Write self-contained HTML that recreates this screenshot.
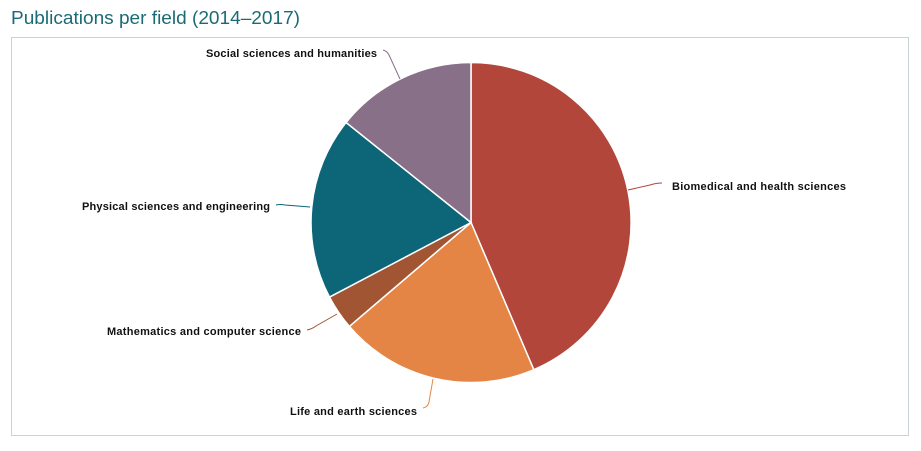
<!DOCTYPE html><html><head><style>body{margin:0;background:#fff;width:921px;height:446px;overflow:hidden;font-family:"Liberation Sans",sans-serif}</style></head><body>
<svg width="921" height="446" xmlns="http://www.w3.org/2000/svg">
<text x="11" y="24" font-size="18" fill="#1a6b76" font-family="Liberation Sans, sans-serif" textLength="289" lengthAdjust="spacingAndGlyphs">Publications per field (2014–2017)</text>
<rect x="11.5" y="37.5" width="897" height="398" fill="#fff" stroke="#c8d3d6"/>
<g stroke="#fff" stroke-width="1.5">
<path d="M471,222.5 L471,62.5 A160,160 0 0 1 533.8,369.7 Z" fill="#b2463a"/>
<path d="M471,222.5 L533.8,369.7 A160,160 0 0 1 349.3,326.4 Z" fill="#e58545"/>
<path d="M471,222.5 L349.3,326.4 A160,160 0 0 1 329.5,297.1 Z" fill="#a15533"/>
<path d="M471,222.5 L329.5,297.1 A160,160 0 0 1 346.1,122.5 Z" fill="#0c6677"/>
<path d="M471,222.5 L346.1,122.5 A160,160 0 0 1 471,62.5 Z" fill="#877088"/>
</g>
<g fill="none" stroke-width="1">
<path d="M628,190 L650,185 Q656,183 662,183" stroke="#b2463a"/>
<path d="M433,379 L429,402 Q428,407 423,408" stroke="#e58545"/>
<path d="M337,314 L316,326 Q312,329 307,330" stroke="#a15533"/>
<path d="M310,207 L285,205 Q280,204 276,205" stroke="#0c6677"/>
<path d="M400,79 L389,55 Q387,51 383,50" stroke="#877088"/>
</g>
<g font-size="11" font-weight="bold" fill="#111" font-family="Liberation Sans, sans-serif" lengthAdjust="spacingAndGlyphs">
<text x="672" y="190" textLength="174">Biomedical and health sciences</text>
<text x="290" y="415" textLength="127">Life and earth sciences</text>
<text x="107" y="335" textLength="194">Mathematics and computer science</text>
<text x="82" y="210" textLength="188">Physical sciences and engineering</text>
<text x="206" y="57" textLength="171">Social sciences and humanities</text>
</g>
</svg></body></html>
